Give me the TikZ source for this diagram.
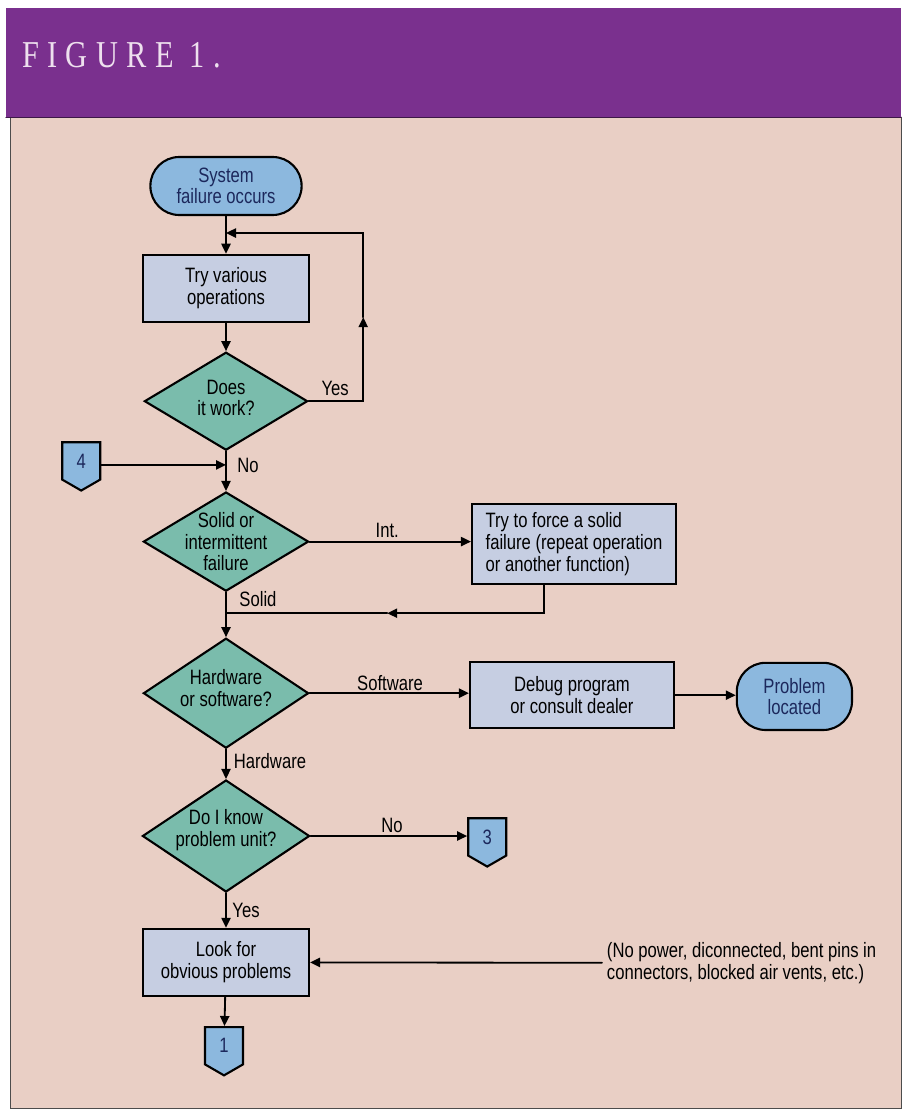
\documentclass[tikz,border=0pt]{standalone}
\usepackage{fontspec}
\setmainfont{Liberation Sans}[FakeStretch=0.8]
\newfontfamily\figfont{Liberation Serif}[FakeStretch=0.8,LetterSpace=22]
\usetikzlibrary{arrows.meta,shapes.geometric,shapes.symbols,calc}
\definecolor{bandpurple}{RGB}{122,48,142}
\definecolor{panelpink}{RGB}{233,207,197}
\definecolor{termblue}{RGB}{140,184,222}
\definecolor{boxblue}{RGB}{198,206,226}
\definecolor{decgreen}{RGB}{122,188,172}
\definecolor{inkblue}{RGB}{28,40,92}
\definecolor{figwhite}{RGB}{238,224,238}

\begin{document}
\begin{tikzpicture}[>={Triangle[length=2.5mm,width=2.3mm]},line cap=round,
  font=\fontsize{14.8}{15.4}\selectfont,
  terminal/.style={draw,line width=1.5pt,fill=termblue,text=inkblue,rounded corners=0.72cm,align=center},
  process/.style={draw,line width=1.5pt,fill=boxblue,align=center,inner sep=0pt},
  decision/.style={draw,diamond,line width=1.5pt,fill=decgreen,inner sep=0pt},
  offpage/.style={draw,signal,signal to=south,signal pointer angle=120,line width=1.5pt,fill=termblue,text=inkblue,minimum width=0.95cm,minimum height=1.0cm,inner sep=0pt},
  link/.style={line width=1.3pt}]
\useasboundingbox (0,0) rectangle (22.65,-27.775);
\fill[white] (0,0) rectangle (22.65,-27.775);
\fill[panelpink] (0.25,-2.93) rectangle (22.53,-27.7);
\draw[black!70,line width=0.6pt] (0.25,-2.93) -- (0.25,-27.7) -- (22.53,-27.7) -- (22.53,-2.93);
\fill[bandpurple] (0.15,-0.2) rectangle (22.52,-2.93);
\draw[bandpurple!50!black,line width=0.8pt] (0.15,-2.93) -- (22.52,-2.93);
\node[anchor=base west,inner sep=0pt,text=figwhite,font=\figfont\fontsize{27}{27}\selectfont] (title) at (0.55,-1.68) {FIGURE 1.};

\node[terminal,minimum width=3.78cm,minimum height=1.45cm] (start) at (5.65,-4.65) {System\\failure occurs};
\node[process,minimum width=4.15cm,minimum height=1.68cm] (try) at (5.65,-7.21) {Try various\\operations};
\node[decision,minimum width=4.08cm,minimum height=2.45cm] (works) at (5.65,-10.03) {};
\node[align=center] (workstxt) at (5.65,-9.95) {Does\\it work?};
\node[decision,minimum width=4.13cm,minimum height=2.48cm] (solid) at (5.65,-13.54) {};
\node[align=center] (solidtxt) at (solid) {Solid or\\intermittent\\failure};
\node[process,align=left,minimum width=5.1cm,minimum height=2cm] (force) at (14.35,-13.6) {Try to force a solid\\failure (repeat operation\\or another function)};
\node[decision,minimum width=4.13cm,minimum height=2.75cm] (hwsw) at (5.65,-17.33) {};
\node[align=center] (hwswtxt) at (5.65,-17.2) {Hardware\\or software?};
\node[process,minimum width=5.1cm,minimum height=1.65cm] (debug) at (14.3,-17.38) {Debug program\\or consult dealer};
\node[terminal,minimum width=2.88cm,minimum height=1.68cm] (found) at (19.86,-17.41) {Problem\\located};
\node[decision,minimum width=4.18cm,minimum height=2.8cm] (unit) at (5.65,-20.9) {};
\node[align=center] (unittxt) at (5.65,-20.75) {Do I know\\problem unit?};
\node[process,minimum width=4.15cm,minimum height=1.68cm] (look) at (5.65,-24.06) {Look for\\obvious problems};
\node[offpage,anchor=north] (conn4) at (2.03,-11.03) {4};
\node[offpage,anchor=north] (conn3) at (12.18,-20.43) {3};
\node[offpage,anchor=north] (conn1) at (5.6,-25.65) {1};
\node[align=left,anchor=west] (note) at (15.05,-24.07) {(No power, diconnected, bent pins in\\connectors, blocked air vents, etc.)};

\coordinate (loopin) at ($(start.south)!0.45!(try.north)$);
\coordinate (yesup) at (9.08,-7.93);
\coordinate (back) at ($(force.south west)!0.353!(force.south east)$);
\coordinate (backmid) at (9.68,-15.33);
\coordinate (in4) at ($(conn4.east)+(0,-0.1)$);
\draw[link,->] (start) -- (try);
\draw[link,->] (try) -- (works);
\draw[link,->] (works.east) -| (yesup);
\draw[link,->] (yesup) |- (loopin);
\draw[link,->] (works) -- (solid);
\draw[link,->] (in4) -- (in4 -| works.south);
\draw[link,->] (solid.east) -- (solid.east -| force.west);
\draw[link,->] (back) |- (backmid);
\draw[link] (backmid) -- (backmid -| solid.south);
\draw[link,->] (solid) -- (hwsw);
\draw[link,->] (hwsw.east) -- (hwsw.east -| debug.west);
\draw[link,->] (debug.east) -- (debug.east -| found.west);
\draw[link,->] (hwsw) -- (unit);
\draw[link,->] (unit.east) -- (unit.east -| conn3.west);
\draw[link,->] (unit) -- (look);
\draw[link,->] (look) -- (conn1);
\draw[link,->] (note.west) -- (look.east);

\node (yeslbl) at (8.38,-9.7) {Yes};
\node (nolbl) at (6.2,-11.63) {No};
\node (intlbl) at (9.68,-13.25) {Int.};
\node (solidlbl) at (6.45,-14.98) {Solid};
\node (swlbl) at (9.75,-17.08) {Software};
\node (hwlbl) at (6.75,-19.03) {Hardware};
\node (nolbl2) at (9.8,-20.63) {No};
\node (yeslbl2) at (6.15,-22.75) {Yes};
\end{tikzpicture}
\end{document}
